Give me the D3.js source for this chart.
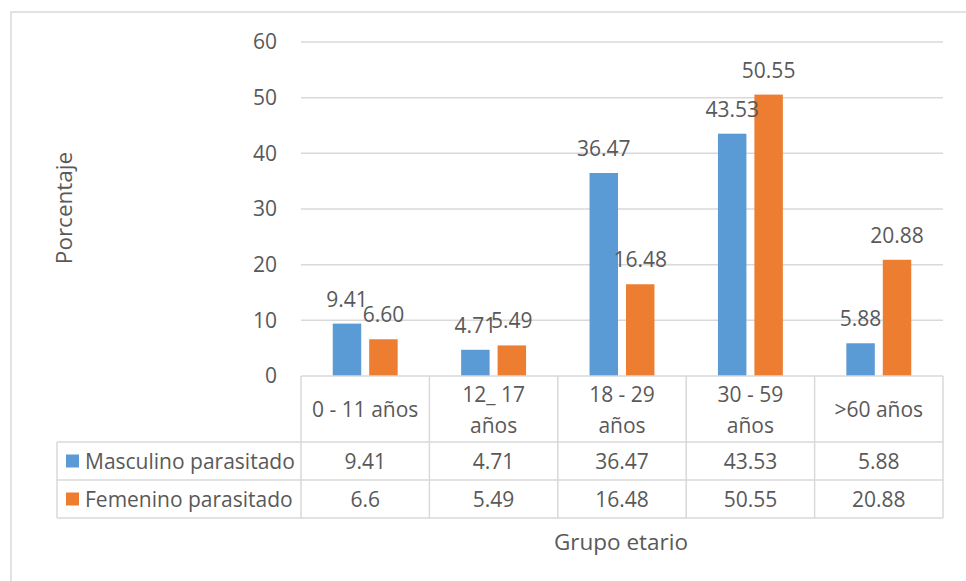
<!DOCTYPE html>
<html>
<head>
<meta charset="utf-8">
<script src="https://cdn.jsdelivr.net/npm/d3@7/dist/d3.min.js"></script>
<style>
  html, body { margin: 0; padding: 0; background: #fff; }
  svg { display: block; }
  text { font-family: "Open Sans", "Noto Sans", sans-serif; fill: #595959; }
</style>
</head>
<body>
<svg id="chart" width="966" height="581"></svg>
<script>
// Age groups (axis labels may wrap onto two lines)
const categories = ["0 - 11 años", "12_ 17 años", "18 - 29 años", "30 - 59 años", ">60 años"];
const categoryLines = [["0 - 11 años"], ["12_ 17", "años"], ["18 - 29", "años"], ["30 - 59", "años"], [">60 años"]];
const seriesNames = ["Masculino parasitado", "Femenino parasitado"];
const masculino = [9.41, 4.71, 36.47, 43.53, 5.88];
const femenino = [6.6, 5.49, 16.48, 50.55, 20.88];
const yTicks = [0, 10, 20, 30, 40, 50, 60];
const colors = ["#5B9BD5", "#ED7D31"];

const seriesValues = [masculino, femenino];
const svg = d3.select("#chart");
const fontSize = 21;
const titleSize = 22.5;
const gridColor = "#d9d9d9";

// Chart frame
svg.append("rect")
  .attr("x", 11).attr("y", 12).attr("width", 1000).attr("height", 640)
  .attr("fill", "none").attr("stroke", gridColor).attr("stroke-width", 1.5);

const plotLeft = 301, plotRight = 943, plotTop = 42, plotBottom = 376;

const x = d3.scaleBand().domain(categories).range([plotLeft, plotRight]).paddingInner(0).paddingOuter(0);
const xs = d3.scaleBand().domain(seriesNames).range([0, x.bandwidth()]).paddingInner(0.219).paddingOuter(0.871);
const y = d3.scaleLinear().domain([0, 60]).range([plotBottom, plotTop]);

// Gridlines
svg.append("g").selectAll("line").data(yTicks.filter(t => t > 0)).join("line")
  .attr("x1", plotLeft).attr("x2", plotRight)
  .attr("y1", d => y(d)).attr("y2", d => y(d))
  .attr("stroke", gridColor).attr("stroke-width", 1.5);

// Y axis tick labels
const yAxis = d3.axisLeft(y).tickValues(yTicks).tickSize(0).tickPadding(0);
const yg = svg.append("g").attr("transform", `translate(${plotLeft - 24},0)`).call(yAxis);
yg.select(".domain").remove();
yg.selectAll("text").attr("font-size", fontSize).attr("font-family", null).attr("fill", "#595959");

// Bars
const groups = svg.append("g").selectAll("g").data(categories).join("g")
  .attr("transform", d => `translate(${x(d)},0)`);
seriesNames.forEach((s, si) => {
  groups.append("rect")
    .attr("x", xs(s))
    .attr("width", xs.bandwidth())
    .attr("y", (d, i) => y(seriesValues[si][i]))
    .attr("height", (d, i) => y(0) - y(seriesValues[si][i]))
    .attr("fill", colors[si]);
});

// Value labels above bars
const fmt = d3.format(".2f");
seriesNames.forEach((s, si) => {
  groups.append("text")
    .attr("x", xs(s) + xs.bandwidth() / 2)
    .attr("y", (d, i) => y(seriesValues[si][i]) - 25)
    .attr("text-anchor", "middle")
    .attr("dominant-baseline", "central")
    .attr("font-size", fontSize)
    .text((d, i) => fmt(seriesValues[si][i]));
});

// Data table below the plot
const rowTop = 442, rowH = 38, tableLeft = 57;
const tbl = svg.append("g").attr("stroke", gridColor).attr("stroke-width", 1.5);
tbl.append("line").attr("x1", plotLeft).attr("x2", plotRight).attr("y1", plotBottom).attr("y2", plotBottom);
[0, 1, 2].forEach(r => {
  tbl.append("line").attr("x1", tableLeft).attr("x2", plotRight)
    .attr("y1", rowTop + r * rowH).attr("y2", rowTop + r * rowH);
});
tbl.append("line").attr("x1", tableLeft).attr("x2", tableLeft).attr("y1", rowTop).attr("y2", rowTop + 2 * rowH);
categories.concat([null]).forEach((c, i) => {
  const xx = c === null ? plotRight : x(c);
  tbl.append("line").attr("x1", xx).attr("x2", xx).attr("y1", plotBottom).attr("y2", rowTop + 2 * rowH);
});

// Category labels
const catLabel = svg.append("g").selectAll("text").data(categories).join("text")
  .attr("x", d => x(d) + x.bandwidth() / 2)
  .attr("text-anchor", "middle")
  .attr("font-size", fontSize);
catLabel.each(function(d, i) {
  const lines = categoryLines[i];
  const mid = (plotBottom + rowTop) / 2;
  const lh = 31;
  d3.select(this).selectAll("tspan").data(lines).join("tspan")
    .attr("x", x(d) + x.bandwidth() / 2)
    .attr("y", (l, j) => mid + (j - (lines.length - 1) / 2) * lh)
    .attr("dominant-baseline", "central")
    .text(l => l);
});

// Table rows: legend key, series name and values
seriesNames.forEach((s, si) => {
  const cy = rowTop + si * rowH + rowH / 2;
  svg.append("rect").attr("x", 66).attr("y", cy - 6.5).attr("width", 13).attr("height", 13).attr("fill", colors[si]);
  svg.append("text").attr("x", 85).attr("y", cy).attr("dominant-baseline", "central")
    .attr("font-size", fontSize).text(s);
  svg.append("g").selectAll("text").data(categories).join("text")
    .attr("x", d => x(d) + x.bandwidth() / 2)
    .attr("y", cy)
    .attr("text-anchor", "middle")
    .attr("dominant-baseline", "central")
    .attr("font-size", fontSize)
    .text((d, i) => String(seriesValues[si][i]));
});

// Axis titles
svg.append("text")
  .attr("transform", "translate(63,208) rotate(-90)")
  .attr("text-anchor", "middle").attr("dominant-baseline", "central")
  .attr("font-size", titleSize).text("Porcentaje");
svg.append("text")
  .attr("x", 621).attr("y", 541)
  .attr("text-anchor", "middle").attr("dominant-baseline", "central")
  .attr("font-size", titleSize).text("Grupo etario");
</script>
</body>
</html>
